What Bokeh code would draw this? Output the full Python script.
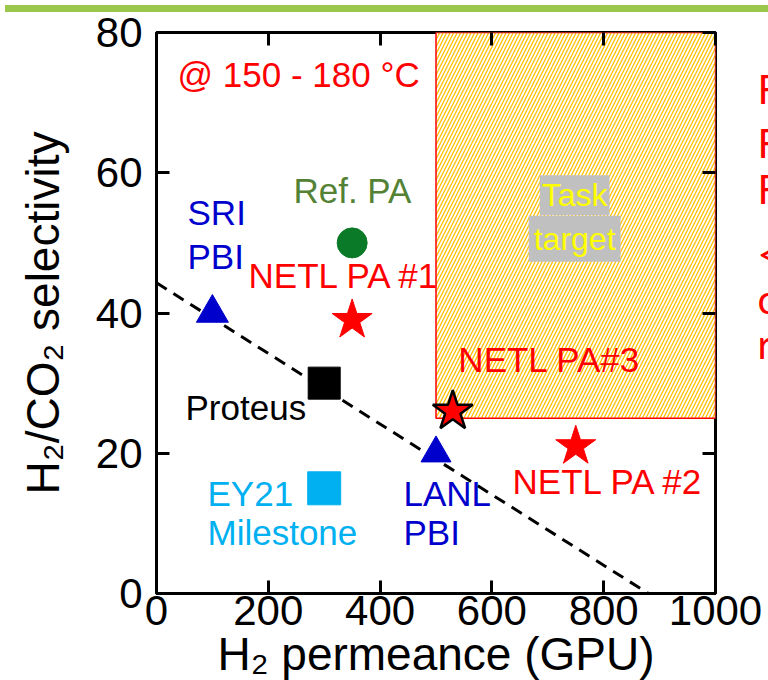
from bokeh.plotting import figure
from bokeh.models import ColumnDataSource, Label, LinearAxis, Div
from bokeh.layouts import column
from bokeh.core.properties import value
from bokeh.embed import file_html
from bokeh.resources import INLINE

# ---- data ----
names = ["SRI PBI", "Proteus", "EY21 Milestone", "Ref. PA", "NETL PA #1", "LANL PBI", "NETL PA#3", "NETL PA #2"]
permeance = [100, 300, 300, 350, 350, 500, 530, 750]
selectivity = [40, 30, 15, 50, 39, 20, 26, 21]

bound_x = [0, 880]
bound_y = [44.3, 0]

target_x = [500, 1000]
target_y = [25, 80]

x_ticks = [0, 200, 400, 600, 800, 1000]
y_ticks = [0, 20, 40, 60, 80]

# ---- styles ----
markers = ["triangle", "square", "square", "circle", "star", "triangle", "star", "star"]
mcolors = ["#0000CC", "#000000", "#00B0F0", "#0A7A28", "#FF0000", "#0000CC", "#FF0000", "#FF0000"]
msizes = [32, 32, 33, 30, 42, 30, 42, 42]
mline = ["#0000CC", "#000000", "#00B0F0", "#0A7A28", "#FF0000", "#0000CC", "#000000", "#FF0000"]
mlw = [1, 1, 1, 1, 1, 1, 2.5, 1]

FONT = "Liberation Sans"
TOP, BOTTOM = 15, 97
H = 673

p = figure(width=768, height=H, x_range=(0, 1000), y_range=(0, 80),
           output_backend="svg", toolbar_location=None,
           min_border_left=156, min_border_right=53, min_border_top=TOP, min_border_bottom=BOTTOM,
           x_axis_location=None, y_axis_location=None)
p.xgrid.visible = False
p.ygrid.visible = False
p.outline_line_color = "black"
p.outline_line_width = 3
p.background_fill_color = "white"
p.border_fill_color = "white"

def style_axis(ax, ticks, labels=True):
    ax.ticker = ticks
    ax.ticker.num_minor_ticks = 2
    ax.axis_line_color = None
    ax.major_tick_in = 13
    ax.major_tick_out = 0
    ax.minor_tick_in = 8
    ax.minor_tick_out = 0
    ax.major_tick_line_width = 3
    ax.minor_tick_line_width = 3
    ax.major_tick_line_color = "black"
    ax.minor_tick_line_color = "black"
    ax.major_label_text_font = FONT
    ax.major_label_text_font_size = "42px"
    ax.major_label_text_color = "black"
    ax.axis_label_text_font = FONT
    ax.axis_label_text_font_size = "46px"
    ax.axis_label_text_font_style = "normal"
    ax.axis_label_text_color = "black"
    if not labels:
        ax.major_label_overrides = {t: "" for t in ticks}
        ax.major_label_text_font_size = "1px"
        ax.major_label_standoff = 0

xb = LinearAxis(axis_label="H₂ permeance (GPU)")
style_axis(xb, x_ticks)
xb.major_label_standoff = 2
xb.axis_label_standoff = 0
p.add_layout(xb, "below")

yl = LinearAxis(axis_label="H₂/CO₂ selectivity")
style_axis(yl, y_ticks)
yl.major_label_standoff = 14
yl.axis_label_standoff = 24
p.add_layout(yl, "left")

xt = LinearAxis()
style_axis(xt, x_ticks, labels=False)
p.add_layout(xt, "above")

yr = LinearAxis()
style_axis(yr, y_ticks, labels=False)
p.add_layout(yr, "right")

# target region
p.quad(left=[target_x[0]], right=[target_x[1]], bottom=[target_y[0]], top=[target_y[1]],
       fill_color="white", fill_alpha=1.0, hatch_pattern="/", hatch_color="#FFC000",
       hatch_scale=7, hatch_weight=1.3, line_color="#FF0000", line_width=1.5)

# upper bound line
p.line(bound_x, bound_y, line_color="black", line_width=3, line_dash="12 8")

# markers
for i in range(len(names)):
    p.scatter([permeance[i]], [selectivity[i]], marker=markers[i], size=msizes[i],
              fill_color=mcolors[i], line_color=mline[i], line_width=mlw[i])

# text annotations
ann_text = ["@ 150 - 180 °C", "SRI", "PBI", "Ref. PA", "NETL PA #1", "Proteus", "EY21", "Milestone",
            "LANL", "PBI", "NETL PA#3", "NETL PA #2"]
ann_x = [37.6, 55.5, 55.5, 245, 164.6, 51.9, 91.2, 91.2, 441.9, 441.9, 540, 636.9]
ann_y = [74.0, 54.3, 48.1, 57.5, 45.4, 26.5, 14.3, 8.7, 14.3, 8.7, 33.3, 16.0]
ann_color = ["#FF0000", "#0000CC", "#0000CC", "#548235", "#FF0000", "#000000", "#00B0F0", "#00B0F0",
             "#0000CC", "#0000CC", "#FF0000", "#FF0000"]
src = ColumnDataSource(dict(x=ann_x, y=ann_y, text=ann_text, color=ann_color))
p.text("x", "y", text="text", source=src, text_color="color", text_font=value(FONT),
       text_font_size="35px", text_align="left", text_baseline="middle")

for t, yy, pad in [("Task", 56.8, 2), ("target", 50.6, 5)]:
    p.add_layout(Label(x=748, y=yy, text=t, text_align="center", text_baseline="middle",
                       text_font=FONT, text_font_size="32px", text_color="#FFFF00",
                       background_fill_color="#C0C0C0", padding=pad))

# side notes (cut by the window edge), drawn outside the frame
side_text = ["F", "F", "F", "<", "c", "r"]
side_x = [1075, 1075, 1075, 1075, 1075, 1075]
side_y = [72.0, 64.3, 57.7, 48.4, 42.0, 35.6]
p.text(side_x, side_y, text=side_text, text_color="#FF0000", text_font=value("Lato"),
       text_font_size="40px", text_align="left", text_baseline="middle", level="overlay")

bar = Div(width=768, height=7, styles={"background-color": "#9BC84A"})
layout = column(bar, p, spacing=0)

open("out.html", "w").write(file_html(layout, INLINE))
